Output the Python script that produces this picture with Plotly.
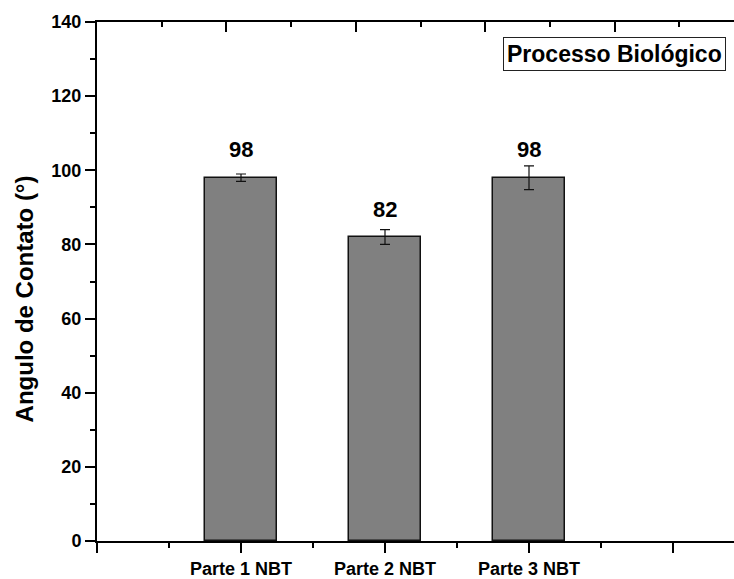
import plotly.graph_objects as go

categories = ["Parte 1 NBT", "Parte 2 NBT", "Parte 3 NBT"]
values = [98, 82, 98]
errors = [1.0, 2.0, 3.2]
value_labels = ["98", "82", "98"]
y_title = "Angulo de Contato (°)"
box_label = "Processo Biológico"

FONT = "Liberation Sans, Arial, sans-serif"
xpos = list(range(len(categories)))

fig = go.Figure()
fig.add_trace(go.Bar(
    x=xpos, y=values, width=0.5,
    marker=dict(color="#808080", line=dict(color="#111111", width=1.5)),
    error_y=dict(type="data", array=errors, visible=True, color="#111111", thickness=1.2, width=5),
    showlegend=False, hoverinfo="skip",
))
fig.add_trace(go.Scatter(x=[], y=[], xaxis="x2", showlegend=False))

for xi, v, lab in zip(xpos, values, value_labels):
    fig.add_annotation(x=xi, y=v, text=lab, showarrow=False, yshift=28,
                       xanchor="center", yanchor="middle",
                       font=dict(family=FONT, size=22, color="black", weight="bold"))

fig.add_annotation(xref="paper", yref="paper", x=-0.1146, y=0.4674, text=y_title,
                   textangle=-90, showarrow=False, xanchor="center", yanchor="middle",
                   font=dict(family=FONT, size=24, color="black", weight="bold"))

fig.add_annotation(xref="paper", yref="paper", x=0.9874, y=0.9713, text=box_label,
                   showarrow=False, xanchor="right", yanchor="top",
                   bordercolor="#222222", borderwidth=1, borderpad=3, bgcolor="white",
                   font=dict(family=FONT, size=23, color="black", weight="bold"))

tickfont = dict(family=FONT, size=18, color="black", weight="bold")
fig.update_layout(
    width=734, height=579,
    margin=dict(l=97, r=0, t=22, b=35, pad=0),
    paper_bgcolor="white", plot_bgcolor="white",
    bargap=0,
    xaxis=dict(
        range=[-1, 3.4236], tickmode="array",
        tickvals=[-1] + xpos + [len(categories)],
        ticktext=[""] + categories + [""],
        ticks="outside", ticklen=10, tickwidth=2, tickcolor="black",
        minor=dict(dtick=0.5, tick0=-1, ticks="outside", ticklen=5, tickwidth=2, tickcolor="black"),
        showline=True, linewidth=2, linecolor="black",
        showgrid=False, zeroline=False, tickfont=tickfont, fixedrange=True,
    ),
    xaxis2=dict(
        overlaying="x", side="top", anchor="y", range=[0, 9.845],
        tickmode="linear", tick0=0, dtick=2,
        ticks="inside", ticklen=10, tickwidth=2, tickcolor="black",
        minor=dict(dtick=1, tick0=0, ticks="inside", ticklen=5, tickwidth=2, tickcolor="black"),
        showticklabels=False, showline=True, linewidth=2, linecolor="black",
        showgrid=False, zeroline=False,
    ),
    yaxis=dict(
        range=[0, 140], tickmode="linear", tick0=0, dtick=20,
        ticks="outside", ticklen=10, tickwidth=2, tickcolor="black",
        minor=dict(dtick=10, ticks="outside", ticklen=5, tickwidth=2, tickcolor="black"),
        showline=True, linewidth=2, linecolor="black",
        showgrid=False, zeroline=False, tickfont=tickfont, fixedrange=True,
    ),
)

fig.write_html("out.html")
